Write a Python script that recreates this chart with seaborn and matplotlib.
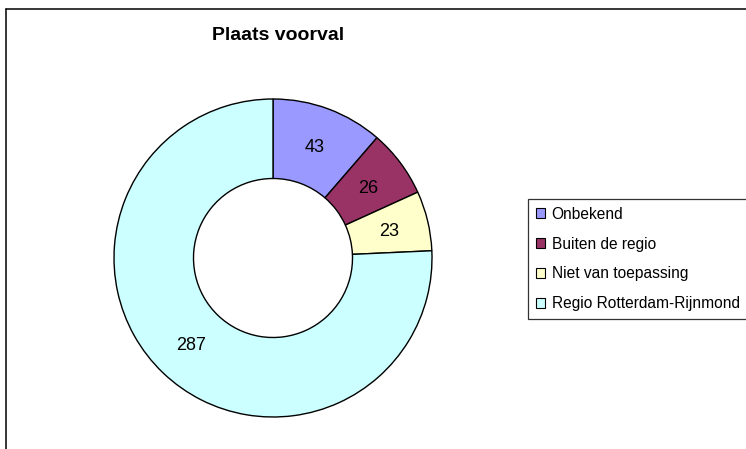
import matplotlib
matplotlib.use("Agg")
import matplotlib.pyplot as plt
from matplotlib.patches import Patch
from matplotlib.lines import Line2D
import seaborn as sns
import math

categories = ["Onbekend", "Buiten de regio", "Niet van toepassing", "Regio Rotterdam-Rijnmond"]
values = [43, 26, 23, 287]
colors = ["#9999FF", "#993366", "#FFFFCC", "#CCFFFF"]
title = "Plaats voorval"

sns.set_theme(style="white")
plt.rcParams["font.family"] = ["Liberation Sans", "DejaVu Sans"]
plt.rcParams["text.color"] = "black"

W, H = 746, 449
fig = plt.figure(figsize=(W / 100, H / 100), dpi=100)
fig.patch.set_facecolor("white")

cx, cy, R = 273, 258, 159
ax = fig.add_axes([(cx - R) / W, 1 - (cy + R) / H, 2 * R / W, 2 * R / H])
wedges, texts = ax.pie(
    values, colors=colors, startangle=90, counterclock=False, radius=1.0,
    wedgeprops=dict(width=0.5, edgecolor="black", linewidth=1.0),
)
total = sum(values)
start = 90.0
for v in values:
    span = v / total * 360
    mid = math.radians(start - span / 2)
    start -= span
    ax.text(0.75 * math.cos(mid), 0.75 * math.sin(mid) - 0.01, str(v),
            ha="center", va="center", fontsize=13, color="black")
ax.set_xlim(-1, 1)
ax.set_ylim(-1, 1)
ax.set_aspect("equal")
ax.axis("off")

fig.text(278 / W, 1 - 36 / H, title, ha="center", va="center",
         fontsize=14, fontweight="bold", color="black")

# chart-area border (left and top edges visible)
fig.add_artist(Line2D([5.5 / W, 5.5 / W], [0, 1 - 9 / H], transform=fig.transFigure,
                      color="black", linewidth=1.1))
fig.add_artist(Line2D([5.5 / W, 1], [1 - 9 / H, 1 - 9 / H], transform=fig.transFigure,
                      color="black", linewidth=1.1))

handles = [Patch(facecolor=c, edgecolor="black", linewidth=0.8) for c in colors]
leg = fig.legend(handles, categories, loc="upper left",
                 bbox_to_anchor=(528 / W, 1 - 199 / H), bbox_transform=fig.transFigure,
                 frameon=True, fancybox=False, fontsize=11.2, handlelength=0.62,
                 handleheight=0.62, handletextpad=0.4, labelspacing=0.95,
                 borderpad=0.5, borderaxespad=0, labelcolor="black")
leg.get_frame().set_edgecolor("black")
leg.get_frame().set_linewidth(0.9)

fig.savefig("out.png", dpi=100, facecolor="white")
